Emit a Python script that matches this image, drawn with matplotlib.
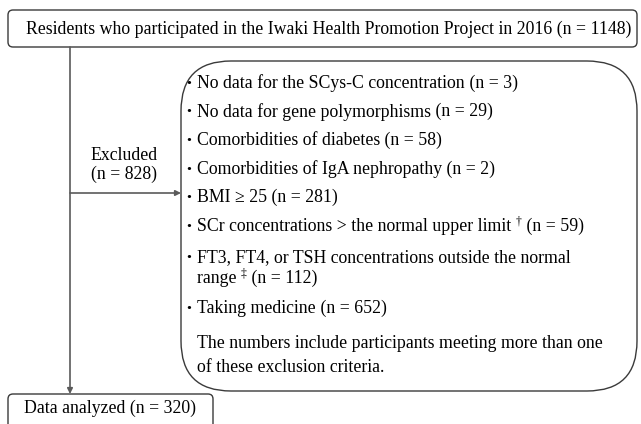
import matplotlib

matplotlib.use("Agg")

import matplotlib.pyplot as plt
from matplotlib.patches import FancyBboxPatch

plt.rcParams["font.family"] = ["Liberation Serif", "DejaVu Serif"]

# flow counts
n_total = 1148
n_excluded = 828
n_analyzed = 320

# exclusion criteria: list of lines, each line a list of (text, superscript?)
criteria = [
    [[("No data for the SCys-C concentration", False)]],
    [[("No data for gene polymorphisms", False)]],
    [[("Comorbidities of diabetes", False)]],
    [[("Comorbidities of IgA nephropathy", False)]],
    [[("BMI \u2265 25", False)]],
    [[("SCr concentrations > the normal upper limit ", False), ("\u2020", True)]],
    [[("FT3, FT4, or TSH concentrations outside the normal", False)],
     [("range ", False), ("\u2021", True)]],
    [[("Taking medicine", False)]],
]
criteria_n = [3, 29, 58, 2, 281, 59, 112, 652]
note = ["The numbers include participants meeting more than one",
        "of these exclusion criteria."]

W, H = 641, 424
fig = plt.figure(figsize=(W / 100, H / 100), dpi=100)
ax = fig.add_axes([0, 0, 1, 1])
ax.set_xlim(0, W)
ax.set_ylim(H, 0)
ax.axis("off")
renderer = fig.canvas.get_renderer()

edge = "#3a3a3a"
line = "#5a5a5a"
fs = 12.8


def rich(x, y, parts):
    for s, sup in parts:
        if sup:
            t = ax.text(x, y - 5, s, ha="left", va="center", fontsize=8.5)
        else:
            t = ax.text(x, y, s, ha="left", va="center", fontsize=fs)
        x = t.get_window_extent(renderer).x1


# top box
ax.add_patch(FancyBboxPatch((8, 10), 629, 37, boxstyle="round,pad=0,rounding_size=5",
                            fc="white", ec=edge, lw=1.0))
ax.text(329, 29, f"Residents who participated in the Iwaki Health Promotion Project in 2016 (n = {n_total})",
        ha="center", va="center", fontsize=fs)

# main vertical arrow
ax.annotate("", xy=(70, 394), xytext=(70, 47),
            arrowprops=dict(arrowstyle="-|>", color=line, lw=1.2, mutation_scale=8,
                            shrinkA=0, shrinkB=0))
# branch arrow
ax.annotate("", xy=(181, 193), xytext=(70, 193),
            arrowprops=dict(arrowstyle="-|>", color=line, lw=1.2, mutation_scale=8,
                            shrinkA=0, shrinkB=0))
ax.text(124, 165, f"Excluded\n(n = {n_excluded})", ha="center", va="center",
        fontsize=fs, linespacing=1.1)

# exclusion box
ax.add_patch(FancyBboxPatch((181, 61), 456, 330, boxstyle="round,pad=0,rounding_size=50",
                            fc="white", ec=edge, lw=1.0))
y = 83
for item, n in zip(criteria, criteria_n):
    if len(item) > 1 and y > 83:
        y += 2.5
    ax.text(185.5, y + 0.5, "\u00b7", ha="left", va="center", fontsize=15, fontweight="bold")
    for k, parts in enumerate(item):
        if k == len(item) - 1:
            parts = parts + [(f" (n = {n})", False)]
        rich(197, y, parts)
        if k < len(item) - 1:
            y += 21
    y += 30 if len(item) > 1 else 28.7
for k, s in enumerate(note):
    ax.text(197, 343 + 24 * k, s, ha="left", va="center", fontsize=fs)

# bottom box
ax.add_patch(FancyBboxPatch((8, 394), 205, 40, boxstyle="round,pad=0,rounding_size=5",
                            fc="white", ec=edge, lw=1.0))
ax.text(110, 408, f"Data analyzed (n = {n_analyzed})", ha="center", va="center", fontsize=fs)

fig.savefig("out.png", dpi=100)
